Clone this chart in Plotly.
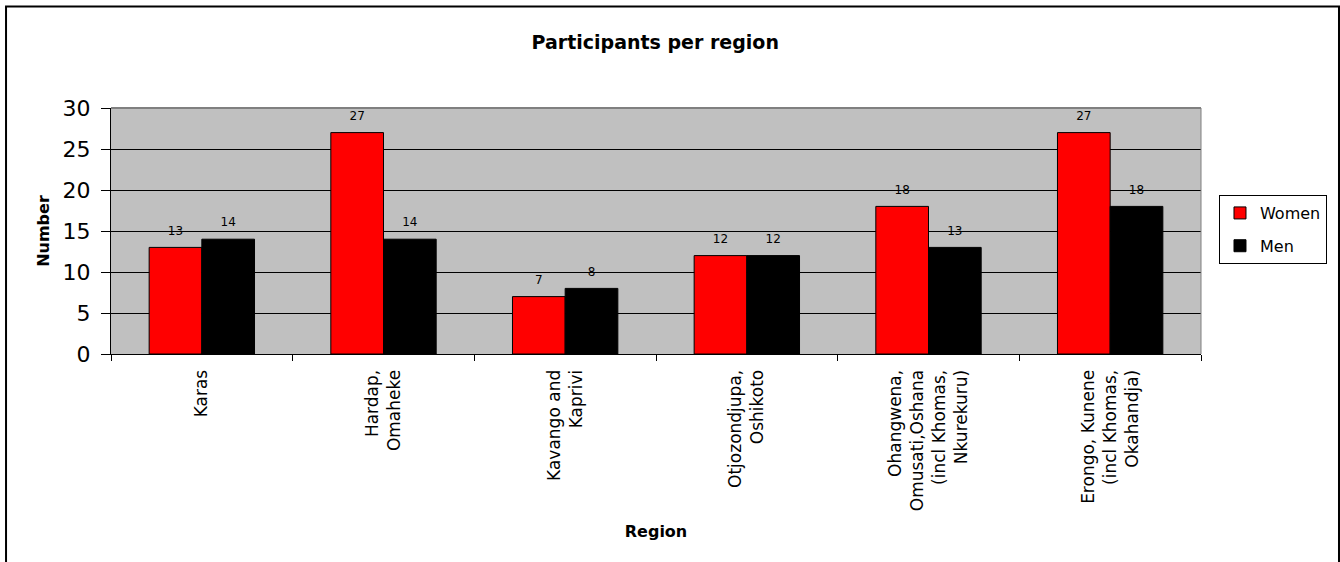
import plotly.graph_objects as go

regions = [
    "Karas",
    "Hardap,<br>Omaheke",
    "Kavango and<br>Kaprivi",
    "Otjozondjupa,<br>Oshikoto",
    "Ohangwena,<br>Omusati,Oshana<br>(incl Khomas,<br>Nkurekuru)",
    "Erongo, Kunene<br>(incl Khomas,<br>Okahandja)",
]
women = [13, 27, 7, 12, 18, 27]
men = [14, 14, 8, 12, 13, 18]

FONT = "DejaVu Sans"

fig = go.Figure()
for name, vals, color, grp in [("Women", women, "#FF0000", "w"), ("Men", men, "#000000", "m")]:
    fig.add_trace(go.Bar(
        name=name, x=regions, y=vals, legendgroup=grp,
        offsetgroup=grp, alignmentgroup="a",
        marker=dict(color=color, line=dict(color="black", width=1)),
    ))
for vals, grp in [(women, "w"), (men, "m")]:
    fig.add_trace(go.Scatter(
        x=regions, y=vals, mode="markers+text",
        offsetgroup=grp, alignmentgroup="a",
        text=[str(v) for v in vals], textposition="top center",
        textfont=dict(size=12, color="black", family=FONT),
        marker=dict(size=14, opacity=0, color="black"),
        showlegend=False, hoverinfo="skip", cliponaxis=False,
    ))

fig.update_layout(
    width=1340, height=562,
    margin=dict(l=111, r=139, t=108, b=208, autoexpand=False),
    paper_bgcolor="white",
    plot_bgcolor="#C0C0C0",
    barmode="group",
    bargap=0.42,
    bargroupgap=0,
    scattermode="group",
    scattergap=0.42,
    font=dict(family=FONT, color="black"),
    title=dict(text="<b>Participants per region</b>", x=0.489, xanchor="center",
               y=0.925, yanchor="middle", font=dict(size=19, family=FONT)),
    legend=dict(x=1.0165, xanchor="left", y=0.506, yanchor="middle",
                bordercolor="black", borderwidth=1, bgcolor="white",
                font=dict(size=16, family=FONT), itemwidth=30,
                tracegroupgap=9),
    showlegend=True,
)
fig.update_xaxes(
    tickangle=-90, tickfont=dict(size=17, family=FONT),
    ticks="outside", ticklen=6, tickson="boundaries", tickcolor="black",
    ticklabelstandoff=8,
    showline=True, linecolor="black", linewidth=1, mirror=False,
    title=dict(text="<b>Region</b>", font=dict(size=16, family=FONT), standoff=15),
    automargin=False,
)
fig.update_yaxes(
    range=[0, 30], dtick=5, tickfont=dict(size=22, family=FONT),
    ticks="outside", ticklen=9, tickcolor="black", ticklabelstandoff=6,
    showgrid=True, gridcolor="black", gridwidth=1,
    showline=True, linecolor="black", linewidth=1, mirror=False,
    title=dict(text="<b>Number</b>", font=dict(size=16, family=FONT), standoff=8),
    zeroline=False, automargin=False,
)
# plot-area frame (top and right edges in grey)
fig.add_shape(type="line", xref="paper", yref="paper", x0=0, x1=1, y0=1, y1=1,
              line=dict(color="#808080", width=2), layer="above")
fig.add_shape(type="line", xref="paper", yref="paper", x0=1, x1=1, y0=0, y1=1,
              line=dict(color="#808080", width=1), layer="above")
# outer chart border
fig.add_shape(type="rect", xref="paper", yref="paper",
              x0=-0.0963, x1=1.1266, y0=-0.9, y1=1.4126,
              line=dict(color="black", width=2), fillcolor="rgba(0,0,0,0)",
              layer="below")

fig.write_html("out.html")
